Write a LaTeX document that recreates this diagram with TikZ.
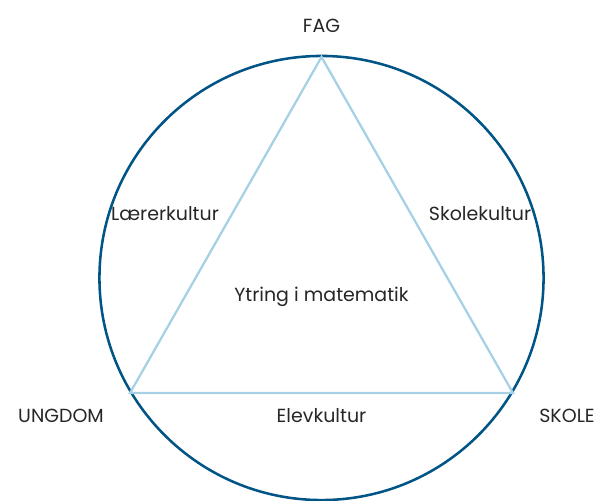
\documentclass[tikz,border=0pt]{standalone}
\usepackage{fontspec}
\setmainfont{Poppins}
\usetikzlibrary{positioning}
\definecolor{ringblue}{RGB}{0,84,134}
\definecolor{triblue}{RGB}{166,209,228}

\begin{document}
\begin{tikzpicture}[x=0.025cm,y=-0.025cm,every node/.style={align=center,text=black!85,font=\fontsize{13.5}{16}\selectfont}]
        \useasboundingbox (0,0) rectangle (600,501);
        \coordinate (mid) at (321.5,278);
        \coordinate (fag) at (321.5,57);
        \coordinate (ungdom) at (130,393);
        \coordinate (skole) at (513,393);

        \draw[ringblue,line width=1.8pt] (mid) circle [radius=5.55cm];
        \draw[triblue,line width=1.6pt] (fag) -- (ungdom) -- (skole) -- cycle;

        \node (lfag) at (321.5,26) {FAG};
        \node (lungdom) at (61,416) {UNGDOM};
        \node (lskole) at (567,416) {SKOLE};

        \node (laerer) at (165,214) {Lærerkultur};
        \node (skolek) at (480,214) {Skolekultur};
        \node (elev) at (321.5,416) {Elevkultur};
        \node (ytring) at (321.5,297) {Ytring i matematik};
\end{tikzpicture}
\end{document}
